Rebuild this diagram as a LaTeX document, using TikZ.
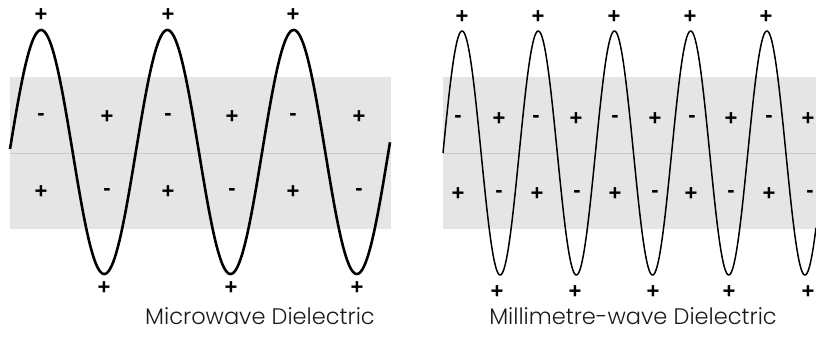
\documentclass[tikz,border=0pt]{standalone}
\usepackage{fontspec}
\setmainfont{Poppins}[UprightFont={* Light}]
\newfontfamily\signfont{Liberation Sans}
\definecolor{bandgrey}{HTML}{E5E5E5}
\definecolor{midgrey}{HTML}{CACACA}
\begin{document}
\begin{tikzpicture}[x=1pt,y=-1pt,
  band/.style={fill=bandgrey},
  midline/.style={draw=midgrey,line width=0.8pt},
  thickwave/.style={draw=black,line width=2.6pt,line join=round},
  thinwave/.style={draw=black,line width=1.5pt,line join=round},
  sign/.style={font=\signfont\bfseries\fontsize{22}{22}\selectfont,inner sep=0pt,text=black},
  caption/.style={font=\fontsize{22.5}{25}\selectfont,inner sep=0pt,text=black!90}]
\useasboundingbox (0,0) rectangle (816,349);
% left panel
\fill[band] (10,77) rectangle (391,229);
\draw[midline] (10,153) -- (391,153);
\draw[thickwave] plot[domain=10:390,samples=400,smooth] (\x,{152-122*sin(2.85036*(\x-9.5))});
% right panel
\fill[band] (443,77) rectangle (816,229);
\draw[midline] (443,153) -- (816,153);
\draw[thinwave] plot[domain=443:816,samples=500,smooth] (\x,{153-122*sin(4.72441*(\x-443))});
% left labels
\foreach \x [count=\i] in {41,168,293} \node[sign] (lt\i) at (\x,15) {+};
\foreach \x [count=\i] in {104,231,357} \node[sign] (lb\i) at (\x,288) {+};
\foreach \x/\s [count=\i] in {41/-,107/+,168/-,232/+,293/-,359/+} \node[sign] (lu\i) at (\x,117) {\s};
\foreach \x/\s [count=\i] in {41/+,107/-,168/+,232/-,293/+,359/-} \node[sign] (ll\i) at (\x,192) {\s};
% right labels
\foreach \x [count=\i] in {462,538,614,690,766} \node[sign] (rt\i) at (\x,17) {+};
\foreach \x [count=\i] in {497,575,653,729,808} \node[sign] (rb\i) at (\x,292) {+};
\foreach \x/\s [count=\i] in {458/-,499/+,536/-,576/+,615/-,655/+,692/-,731/+,769/-,808/+} \node[sign] (ru\i) at (\x,119) {\s};
\foreach \x/\s [count=\i] in {458/+,499/-,537/+,577/-,615/+,655/-,691/+,731/-,769/+,810/-} \node[sign] (rl\i) at (\x,194) {\s};
% captions
\node[caption] (capL) at (260,316) {Microwave Dielectric};
\node[caption] (capR) at (633,316) {Millimetre-wave Dielectric};
\end{tikzpicture}
\end{document}
